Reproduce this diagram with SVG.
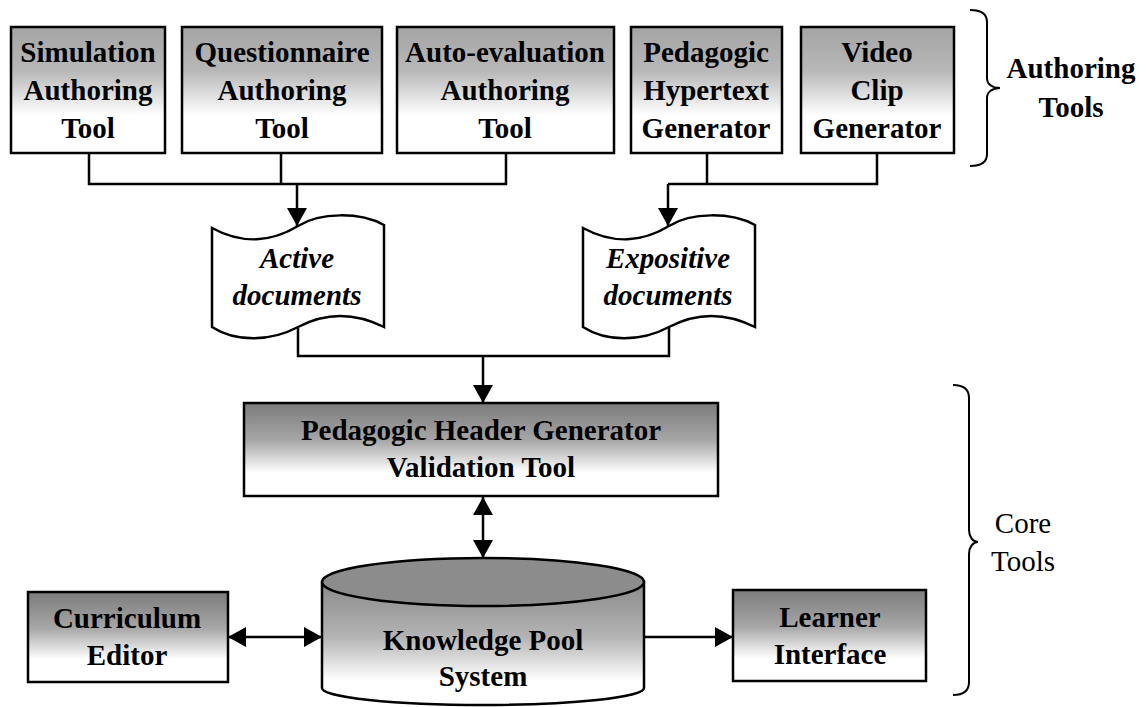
<svg xmlns="http://www.w3.org/2000/svg" width="1146" height="707" viewBox="0 0 1146 707">
  <defs>
    <linearGradient id="gTop" x1="0" y1="0" x2="0" y2="1">
      <stop offset="0" stop-color="#a4a4a4"/>
      <stop offset="0.35" stop-color="#b8b8b8"/>
      <stop offset="0.7" stop-color="#ffffff"/>
      <stop offset="1" stop-color="#ffffff"/>
    </linearGradient>
    <linearGradient id="gDark" x1="0" y1="0" x2="0" y2="1">
      <stop offset="0" stop-color="#7c7c7c"/>
      <stop offset="0.4" stop-color="#a6a6a6"/>
      <stop offset="0.75" stop-color="#ffffff"/>
      <stop offset="1" stop-color="#ffffff"/>
    </linearGradient>
    <linearGradient id="gCyl" x1="0" y1="0" x2="0" y2="1">
      <stop offset="0" stop-color="#8a8a8a"/>
      <stop offset="0.45" stop-color="#b4b4b4"/>
      <stop offset="0.8" stop-color="#ffffff"/>
      <stop offset="1" stop-color="#ffffff"/>
    </linearGradient>
    <marker id="arrow" markerUnits="userSpaceOnUse" viewBox="0 0 18 20" markerWidth="18" markerHeight="20" refX="18" refY="10" orient="auto-start-reverse">
      <path d="M0,0 L18,10 L0,20 Z" fill="#000"/>
    </marker>
    <!-- wavy document outline, origin at the left edge of the sheet -->
    <path id="docShape" d="M0,228 C33,246 63,240 86,226 C108,212 148,212 172,225 L172,327 C148,315 118,310 86,327 C58,342 23,342 0,327 Z"/>
  </defs>
  <style>
    .box { stroke: #000; stroke-width: 2.5; }
    .lbl { font-family: "Liberation Serif", "Times New Roman", serif; font-weight: bold; font-size: 29px; text-anchor: middle; fill: #000; }
    .doc { font-family: "Liberation Serif", "Times New Roman", serif; font-weight: bold; font-style: italic; font-size: 29px; text-anchor: middle; fill: #000; }
    .side { font-family: "Liberation Serif", "Times New Roman", serif; font-size: 29px; text-anchor: middle; fill: #000; }
    .side-b { font-weight: bold; }
    .wire { fill: none; stroke: #000; stroke-width: 2.5; }
    .brace { fill: none; stroke: #000; stroke-width: 2; }
  </style>

  <rect width="1146" height="707" fill="#fff"/>

  <!-- authoring tools -->
  <g id="simulation-authoring">
    <rect class="box" x="11" y="27" width="154" height="126" fill="url(#gTop)"/>
    <text class="lbl" x="88" y="62">Simulation</text>
    <text class="lbl" x="88" y="100">Authoring</text>
    <text class="lbl" x="88" y="138">Tool</text>
  </g>
  <g id="questionnaire-authoring">
    <rect class="box" x="182" y="27" width="200" height="126" fill="url(#gTop)"/>
    <text class="lbl" x="282" y="62">Questionnaire</text>
    <text class="lbl" x="282" y="100">Authoring</text>
    <text class="lbl" x="282" y="138">Tool</text>
  </g>
  <g id="autoevaluation-authoring">
    <rect class="box" x="397" y="27" width="217" height="126" fill="url(#gTop)"/>
    <text class="lbl" x="505" y="62">Auto-evaluation</text>
    <text class="lbl" x="505" y="100">Authoring</text>
    <text class="lbl" x="505" y="138">Tool</text>
  </g>
  <g id="hypertext-generator">
    <rect class="box" x="631" y="27" width="151" height="126" fill="url(#gTop)"/>
    <text class="lbl" x="706" y="62">Pedagogic</text>
    <text class="lbl" x="706" y="100">Hypertext</text>
    <text class="lbl" x="706" y="138">Generator</text>
  </g>
  <g id="videoclip-generator">
    <rect class="box" x="801" y="27" width="153" height="126" fill="url(#gTop)"/>
    <text class="lbl" x="877" y="62">Video</text>
    <text class="lbl" x="877" y="100">Clip</text>
    <text class="lbl" x="877" y="138">Generator</text>
  </g>

  <!-- documents -->
  <g id="active-documents">
    <use href="#docShape" x="212" fill="#fff" stroke="#000" stroke-width="2.5"/>
    <text class="doc" x="297" y="268">Active</text>
    <text class="doc" x="297" y="305">documents</text>
  </g>
  <g id="expositive-documents">
    <use href="#docShape" x="583" fill="#fff" stroke="#000" stroke-width="2.5"/>
    <text class="doc" x="668" y="268">Expositive</text>
    <text class="doc" x="668" y="305">documents</text>
  </g>

  <!-- core tools -->
  <g id="header-generator">
    <rect class="box" x="244" y="403" width="474" height="93" fill="url(#gDark)"/>
    <text class="lbl" x="481" y="440">Pedagogic Header Generator</text>
    <text class="lbl" x="481" y="477">Validation Tool</text>
  </g>
  <g id="knowledge-pool">
    <path class="box" d="M322,582 L322,688 A161,17 0 0 0 644,688 L644,582 Z" fill="url(#gCyl)"/>
    <ellipse class="box" cx="483" cy="582" rx="161" ry="24" fill="#8c8c8c"/>
    <text class="lbl" x="483" y="650">Knowledge Pool</text>
    <text class="lbl" x="483" y="686">System</text>
  </g>
  <g id="curriculum-editor">
    <rect class="box" x="28" y="592" width="200" height="90" fill="url(#gDark)"/>
    <text class="lbl" x="127" y="628">Curriculum</text>
    <text class="lbl" x="127" y="665">Editor</text>
  </g>
  <g id="learner-interface">
    <rect class="box" x="733" y="590" width="193" height="91" fill="url(#gDark)"/>
    <text class="lbl" x="830" y="627">Learner</text>
    <text class="lbl" x="830" y="664">Interface</text>
  </g>

  <!-- connectors -->
  <g id="connectors">
    <path class="wire" d="M89,153 V184 H506 V153 M281,153 V184"/>
    <path class="wire" d="M297,184 V226" marker-end="url(#arrow)"/>
    <path class="wire" d="M877,153 V184 H668 M707,153 V184"/>
    <path class="wire" d="M668,184 V226" marker-end="url(#arrow)"/>
    <path class="wire" d="M298,328 V356 H669 V328"/>
    <path class="wire" d="M483,356 V403" marker-end="url(#arrow)"/>
    <path class="wire" d="M483,497 V558" marker-start="url(#arrow)" marker-end="url(#arrow)"/>
    <path class="wire" d="M228,637 H322" marker-start="url(#arrow)" marker-end="url(#arrow)"/>
    <path class="wire" d="M644,637 H733" marker-end="url(#arrow)"/>
  </g>

  <!-- group braces -->
  <g id="authoring-brace">
    <path class="brace" d="M970,10 C980,10 987,13 987,22 V78 C987,84 992,88 1000,88 C992,88 987,92 987,98 V154 C987,163 980,166 970,166"/>
    <text class="side side-b" x="1071" y="78">Authoring</text>
    <text class="side side-b" x="1071" y="117">Tools</text>
  </g>
  <g id="core-brace">
    <path class="brace" d="M953,385 C963,385 969,389 969,398 V530 C969,537 973,542 978,542 C973,542 969,547 969,554 V682 C969,691 963,695 953,695"/>
    <text class="side" x="1023" y="533">Core</text>
    <text class="side" x="1023" y="571">Tools</text>
  </g>
</svg>
